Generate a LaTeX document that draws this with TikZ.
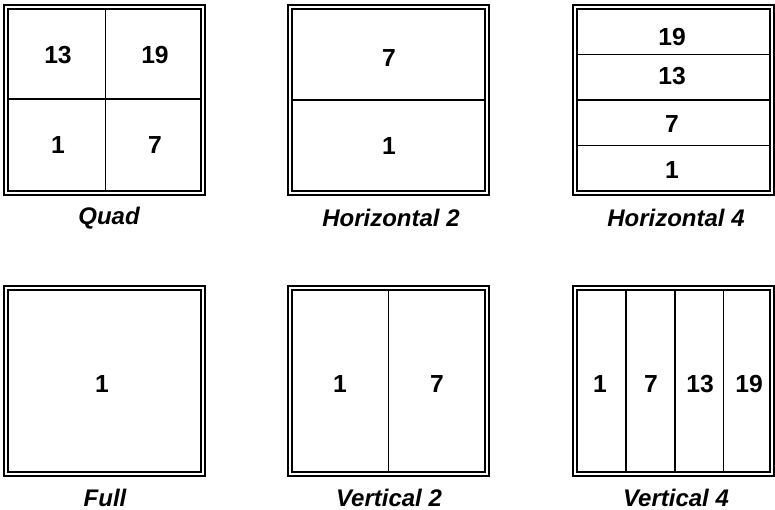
\documentclass[tikz,border=0pt]{standalone}
\usepackage{fontspec}
\setmainfont{Liberation Sans}
\usepackage{tikz}
\usetikzlibrary{positioning}

\begin{document}
\begin{tikzpicture}[x=0.75pt, y=-0.75pt,
    outerframe/.style={line width=2pt},
    innerframe/.style={line width=1.3pt},
    divider/.style={line width=0.8pt},
    quaddivider/.style={line width=1.3pt},
    num/.style={font=\fontsize{18.5}{21}\selectfont\bfseries},
    caption/.style={inner sep=0pt, font=\fontsize{18}{21}\selectfont\bfseries\itshape},
]
    \useasboundingbox (0,0) rectangle (775,510);

    % Frames
    \foreach \x in {4, 288, 573} {
        \foreach \y in {5, 286} {
            \draw[outerframe] (\x,\y) rectangle ++(201,190);
            \draw[innerframe] (\x+4,\y+4) rectangle ++(193,182);
        }
    }

    % Dividers
    \draw[quaddivider] (105.5,9) -- (105.5,191);
    \draw[quaddivider] (8,99) -- (201,99);
    \draw[divider] (292,100) -- (485,100);
    \foreach \y in {54.5, 100, 145.5}
        \draw[divider] (577,\y) -- (770,\y);
    \draw[divider] (388.5,290) -- (388.5,472);
    \foreach \x in {626, 675, 723.5}
        \draw[divider] (\x,290) -- (\x,472);

    % Numbers
    \node[num] (quad13) at (58,55)   {13};
    \node[num] (quad19) at (155,55)  {19};
    \node[num] (quad1)  at (58,145)  {1};
    \node[num] (quad7)  at (155,145) {7};

    \node[num] (htwo7) at (389,58)  {7};
    \node[num] (htwo1) at (389,146) {1};

    \node[num] (hfour19) at (672,37)  {19};
    \node[num] (hfour13) at (672,76)  {13};
    \node[num] (hfour7)  at (672,124) {7};
    \node[num] (hfour1)  at (672,170) {1};

    \node[num] (full1) at (102,384) {1};

    \node[num] (vtwo1) at (340,384) {1};
    \node[num] (vtwo7) at (437,384) {7};

    \node[num] (vfour1)  at (600,384) {1};
    \node[num] (vfour7)  at (651,384) {7};
    \node[num] (vfour13) at (700,384) {13};
    \node[num] (vfour19) at (749,384) {19};

    % Captions
    \node[caption] (quadlabel)  at (109,218) {Quad};
    \node[caption] (htwolabel)  at (391,218) {Horizontal 2};
    \node[caption] (hfourlabel) at (676,218) {Horizontal 4};
    \node[caption] (fulllabel)  at (105,498) {Full};
    \node[caption] (vtwolabel)  at (389,498) {Vertical 2};
    \node[caption] (vfourlabel) at (676,498) {Vertical 4};
\end{tikzpicture}
\end{document}
